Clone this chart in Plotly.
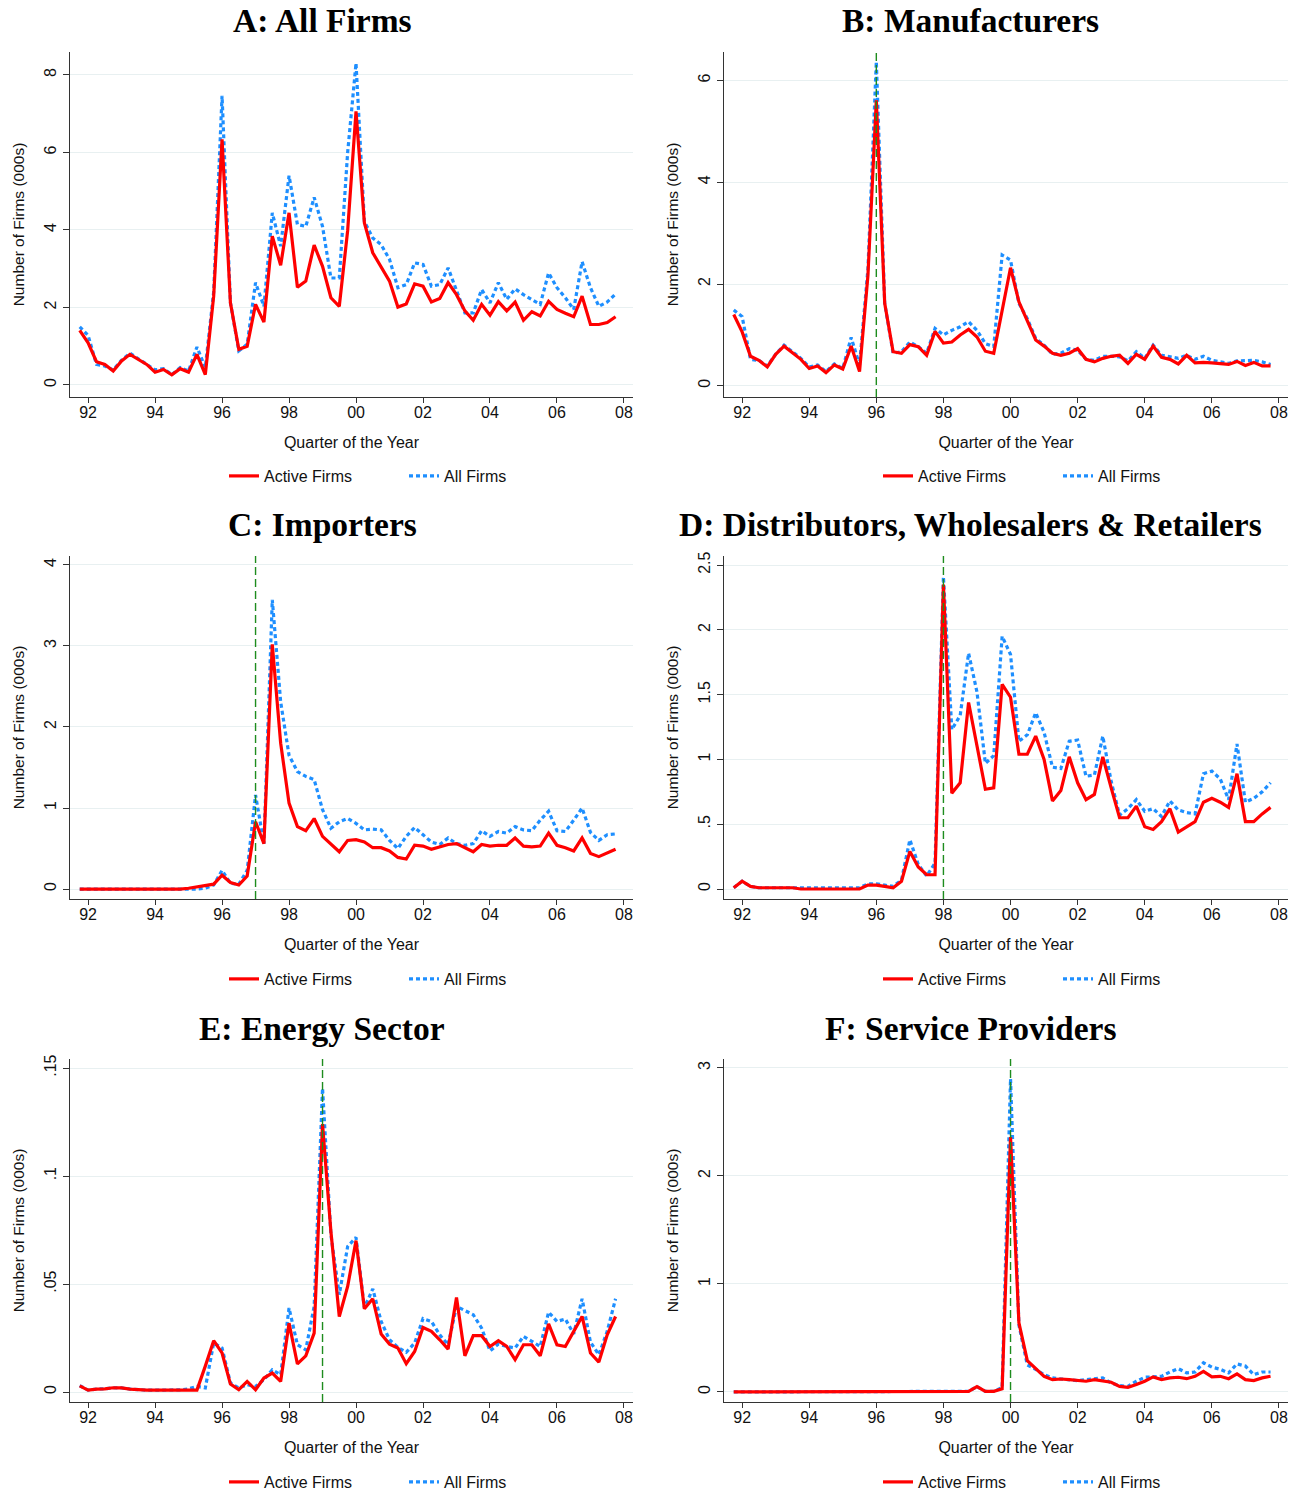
import plotly.graph_objects as go

# ---------------- data ----------------
YEARS = list(range(1991, 2008))
QUARTERS = [f"{y}q{q}" for y in YEARS for q in range(1, 5)][3:]   # 1991q4 .. 2007q4
X_TICKS = [1992, 1994, 1996, 1998, 2000, 2002, 2004, 2006, 2008]
X_TICK_LABELS = ["92", "94", "96", "98", "00", "02", "04", "06", "08"]

A_ACTIVE = [1.41, 1.09, 0.60, 0.53, 0.36, 0.62, 0.79, 0.66, 0.53, 0.33,
            0.40, 0.26, 0.42, 0.33, 0.79, 0.27, 2.29, 6.34, 2.12, 0.92,
            1.00, 2.08, 1.62, 3.84, 3.09, 4.44, 2.52, 2.68, 3.61, 3.06,
            2.25, 2.03, 3.98, 7.06, 4.18, 3.41, 3.05, 2.68, 2.01, 2.09,
            2.61, 2.55, 2.14, 2.23, 2.64, 2.33, 1.91, 1.67, 2.08, 1.80,
            2.15, 1.91, 2.14, 1.67, 1.89, 1.78, 2.16, 1.95, 1.85, 1.76,
            2.29, 1.56, 1.56, 1.61, 1.76]
A_ALL = [1.50, 1.28, 0.53, 0.49, 0.39, 0.64, 0.82, 0.68, 0.55, 0.39,
         0.42, 0.27, 0.45, 0.36, 0.98, 0.45, 2.40, 7.46, 2.12, 0.88,
         1.05, 2.64, 2.03, 4.44, 3.58, 5.40, 4.14, 4.09, 4.84, 4.09,
         2.76, 2.76, 6.00, 8.30, 4.22, 3.79, 3.62, 3.24, 2.51, 2.59,
         3.15, 3.11, 2.55, 2.59, 3.02, 2.46, 1.86, 1.86, 2.46, 2.12,
         2.64, 2.21, 2.48, 2.33, 2.21, 2.08, 2.89, 2.51, 2.25, 1.95,
         3.18, 2.51, 2.03, 2.14, 2.35]

B_ACTIVE = [1.40, 1.06, 0.58, 0.50, 0.37, 0.62, 0.78, 0.65, 0.52, 0.34,
            0.39, 0.26, 0.41, 0.33, 0.78, 0.28, 2.17, 5.61, 1.62, 0.67,
            0.64, 0.81, 0.77, 0.60, 1.07, 0.84, 0.86, 1.00, 1.11, 0.96,
            0.68, 0.64, 1.52, 2.32, 1.65, 1.29, 0.90, 0.78, 0.64, 0.60,
            0.64, 0.73, 0.52, 0.47, 0.54, 0.58, 0.60, 0.44, 0.62, 0.52,
            0.78, 0.56, 0.52, 0.43, 0.60, 0.45, 0.46, 0.45, 0.44, 0.42,
            0.48, 0.40, 0.46, 0.39, 0.39]
B_ALL = [1.49, 1.36, 0.52, 0.50, 0.39, 0.62, 0.80, 0.67, 0.54, 0.37,
         0.41, 0.28, 0.43, 0.34, 0.95, 0.41, 2.30, 6.37, 1.62, 0.64,
         0.67, 0.86, 0.77, 0.64, 1.13, 1.00, 1.09, 1.16, 1.26, 1.09,
         0.83, 0.77, 2.57, 2.47, 1.62, 1.32, 0.93, 0.80, 0.62, 0.64,
         0.73, 0.70, 0.52, 0.50, 0.58, 0.58, 0.57, 0.49, 0.67, 0.54,
         0.80, 0.60, 0.57, 0.54, 0.60, 0.52, 0.58, 0.50, 0.47, 0.44,
         0.49, 0.50, 0.50, 0.47, 0.42]

C_ACTIVE = [0.00, 0.00, 0.00, 0.00, 0.00, 0.00, 0.00, 0.00, 0.00, 0.00,
            0.00, 0.00, 0.00, 0.01, 0.03, 0.04, 0.06, 0.17, 0.08, 0.05,
            0.16, 0.83, 0.56, 3.02, 1.80, 1.06, 0.77, 0.72, 0.87, 0.65,
            0.56, 0.46, 0.60, 0.61, 0.58, 0.51, 0.51, 0.47, 0.39, 0.37,
            0.54, 0.53, 0.49, 0.52, 0.55, 0.56, 0.51, 0.46, 0.55, 0.53,
            0.54, 0.54, 0.63, 0.53, 0.52, 0.53, 0.69, 0.54, 0.51, 0.47,
            0.63, 0.44, 0.40, 0.45, 0.49]
C_ALL = [0.00, 0.00, 0.00, 0.00, 0.00, 0.00, 0.00, 0.00, 0.00, 0.00,
         0.00, 0.00, 0.00, 0.00, 0.00, 0.01, 0.05, 0.23, 0.07, 0.06,
         0.23, 1.16, 0.56, 3.57, 2.31, 1.65, 1.45, 1.39, 1.35, 0.98,
         0.75, 0.83, 0.87, 0.81, 0.73, 0.74, 0.73, 0.60, 0.50, 0.65,
         0.76, 0.67, 0.58, 0.55, 0.63, 0.56, 0.54, 0.56, 0.72, 0.65,
         0.71, 0.69, 0.77, 0.73, 0.72, 0.85, 0.96, 0.72, 0.71, 0.85,
         1.00, 0.70, 0.60, 0.67, 0.68]

D_ACTIVE = [0.01, 0.06, 0.02, 0.01, 0.01, 0.01, 0.01, 0.01, 0.00, 0.00,
            0.00, 0.00, 0.00, 0.00, 0.00, 0.00, 0.03, 0.03, 0.02, 0.01,
            0.06, 0.29, 0.17, 0.11, 0.11, 2.35, 0.74, 0.82, 1.44, 1.10,
            0.77, 0.78, 1.58, 1.48, 1.04, 1.04, 1.18, 1.00, 0.68, 0.76,
            1.02, 0.82, 0.69, 0.73, 1.02, 0.78, 0.55, 0.55, 0.64, 0.48,
            0.46, 0.52, 0.62, 0.44, 0.48, 0.52, 0.67, 0.70, 0.67, 0.63,
            0.89, 0.52, 0.52, 0.58, 0.63]
D_ALL = [0.01, 0.06, 0.02, 0.01, 0.01, 0.01, 0.01, 0.01, 0.01, 0.01,
         0.01, 0.01, 0.01, 0.01, 0.01, 0.01, 0.04, 0.04, 0.03, 0.02,
         0.07, 0.38, 0.19, 0.10, 0.20, 2.41, 1.23, 1.34, 1.82, 1.52,
         0.97, 1.03, 1.95, 1.81, 1.14, 1.19, 1.36, 1.21, 0.94, 0.93,
         1.14, 1.15, 0.87, 0.88, 1.18, 0.83, 0.57, 0.62, 0.69, 0.60,
         0.62, 0.56, 0.68, 0.61, 0.59, 0.58, 0.89, 0.91, 0.85, 0.69,
         1.12, 0.67, 0.70, 0.75, 0.82]

E_ACTIVE = [0.0029, 0.0009, 0.0014, 0.0015, 0.0020, 0.0019, 0.0014, 0.0011, 0.0009, 0.0009,
            0.0009, 0.0009, 0.0009, 0.0009, 0.0009, 0.0120, 0.0238, 0.0181, 0.0037, 0.0011,
            0.0049, 0.0011, 0.0065, 0.0088, 0.0049, 0.0319, 0.0130, 0.0168, 0.0273, 0.1241,
            0.0744, 0.0350, 0.0489, 0.0701, 0.0386, 0.0432, 0.0269, 0.0222, 0.0204, 0.0131,
            0.0188, 0.0299, 0.0281, 0.0242, 0.0199, 0.0438, 0.0168, 0.0261, 0.0261, 0.0211,
            0.0238, 0.0211, 0.0150, 0.0219, 0.0219, 0.0168, 0.0316, 0.0219, 0.0211, 0.0281,
            0.0350, 0.0181, 0.0139, 0.0265, 0.0350]
E_ALL = [0.0030, 0.0009, 0.0014, 0.0015, 0.0020, 0.0019, 0.0014, 0.0011, 0.0009, 0.0009,
         0.0009, 0.0009, 0.0010, 0.0015, 0.0026, 0.0019, 0.0227, 0.0204, 0.0042, 0.0019,
         0.0034, 0.0026, 0.0057, 0.0103, 0.0080, 0.0389, 0.0219, 0.0196, 0.0397, 0.1407,
         0.0728, 0.0451, 0.0674, 0.0716, 0.0389, 0.0478, 0.0327, 0.0242, 0.0207, 0.0184,
         0.0227, 0.0340, 0.0327, 0.0265, 0.0219, 0.0397, 0.0378, 0.0358, 0.0296, 0.0191,
         0.0222, 0.0211, 0.0204, 0.0258, 0.0235, 0.0211, 0.0370, 0.0327, 0.0338, 0.0269,
         0.0432, 0.0231, 0.0173, 0.0281, 0.0432]

F_ACTIVE = [0.000, 0.000, 0.000, 0.000, 0.000, 0.000, 0.000, 0.000, 0.000, 0.000,
            0.000, 0.000, 0.000, 0.000, 0.000, 0.000, 0.000, 0.001, 0.002, 0.002,
            0.003, 0.003, 0.004, 0.004, 0.006, 0.006, 0.006, 0.006, 0.006, 0.050,
            0.006, 0.006, 0.030, 2.360, 0.640, 0.290, 0.220, 0.145, 0.114, 0.120,
            0.114, 0.105, 0.099, 0.114, 0.099, 0.090, 0.052, 0.043, 0.068, 0.099,
            0.139, 0.114, 0.130, 0.136, 0.123, 0.145, 0.190, 0.139, 0.145, 0.123,
            0.167, 0.114, 0.105, 0.130, 0.145]
F_ALL = [0.000, 0.000, 0.000, 0.000, 0.000, 0.000, 0.000, 0.000, 0.000, 0.000,
         0.000, 0.000, 0.000, 0.000, 0.000, 0.000, 0.000, 0.001, 0.002, 0.002,
         0.003, 0.003, 0.004, 0.004, 0.006, 0.006, 0.006, 0.006, 0.006, 0.050,
         0.006, 0.006, 0.040, 2.900, 0.620, 0.250, 0.210, 0.160, 0.130, 0.120,
         0.114, 0.105, 0.114, 0.123, 0.130, 0.083, 0.059, 0.052, 0.099, 0.136,
         0.139, 0.145, 0.185, 0.216, 0.176, 0.185, 0.270, 0.230, 0.210, 0.176,
         0.260, 0.240, 0.160, 0.185, 0.185]

TITLES = ["A: All Firms", "B: Manufacturers", "C: Importers",
          "D: Distributors, Wholesalers & Retailers", "E: Energy Sector",
          "F: Service Providers"]
ACTIVE = [A_ACTIVE, B_ACTIVE, C_ACTIVE, D_ACTIVE, E_ACTIVE, F_ACTIVE]
ALL = [A_ALL, B_ALL, C_ALL, D_ALL, E_ALL, F_ALL]
EVENT_QUARTER = [None, "1996q1", "1997q1", "1998q1", "1999q1", "2000q1"]
Y_TICKS = [[0, 2, 4, 6, 8], [0, 2, 4, 6], [0, 1, 2, 3, 4],
           [0, 0.5, 1, 1.5, 2, 2.5], [0, 0.05, 0.1, 0.15], [0, 1, 2, 3]]
Y_TICK_LABELS = [["0", "2", "4", "6", "8"], ["0", "2", "4", "6"],
                 ["0", "1", "2", "3", "4"], ["0", ".5", "1", "1.5", "2", "2.5"],
                 ["0", ".05", ".1", ".15"], ["0", "1", "2", "3"]]
Y_RANGES = [[-0.31, 8.59], [-0.22, 6.56], [-0.123, 4.11],
            [-0.077, 2.57], [-0.0046, 0.1542], [-0.093, 3.083]]


def qnum(label):
    y, q = label.split("q")
    return int(y) + (int(q) - 1) / 4.0


X = [qnum(q) for q in QUARTERS]

# ---------------- layout geometry (pixels) ----------------
W, H = 1296, 1492
COLS = [(70, 633), (724, 1288)]
ROWS = [(52, 397), (556, 899), (1059, 1402)]
TITLE_Y = [20, 524, 1028]
LEGEND_Y = [476, 979, 1482]
LEGEND_X = [224, 878]

RED = "#ff0000"
BLUE = "#1e8fff"
GREEN = "#1e8c1e"
SANS = "Liberation Sans, Arial, sans-serif"
SERIF = "Liberation Serif, Times New Roman, serif"

fig = go.Figure()
layout = dict(width=W, height=H,
              margin=dict(l=0, r=0, t=0, b=0, autoexpand=False),
              paper_bgcolor="white", plot_bgcolor="white",
              showlegend=True, annotations=[], shapes=[])

for i in range(6):
    r, c = divmod(i, 2)
    n = i + 1
    sfx = "" if n == 1 else str(n)
    xa, ya = "x" + sfx, "y" + sfx
    lg = "legend" + sfx
    x0p, x1p = COLS[c]
    y0p, y1p = ROWS[r]
    xdom = [x0p / W, x1p / W]
    ydom = [1 - y1p / H, 1 - y0p / H]

    fig.add_trace(go.Scatter(x=X, y=ALL[i], mode="lines", name="All Firms",
                             line=dict(color=BLUE, width=3.2, dash="4px,3px"),
                             xaxis=xa, yaxis=ya, legend=lg, legendrank=2))
    fig.add_trace(go.Scatter(x=X, y=ACTIVE[i], mode="lines", name="Active Firms",
                             line=dict(color=RED, width=3.2),
                             xaxis=xa, yaxis=ya, legend=lg, legendrank=1))

    layout["xaxis" + sfx] = dict(
        domain=xdom, anchor=ya, range=[1991.46, 2008.27], automargin=False,
        tickmode="array", tickvals=X_TICKS, ticktext=X_TICK_LABELS,
        ticks="outside", ticklen=5, tickcolor="#333", tickwidth=1,
        ticklabelstandoff=-4,
        showline=True, linecolor="#333", linewidth=1.2, showgrid=False,
        zeroline=False, tickfont=dict(family=SANS, size=16, color="#111"),
        title=dict(text="Quarter of the Year", standoff=16,
                   font=dict(family=SANS, size=16, color="#111")))
    layout["yaxis" + sfx] = dict(
        domain=ydom, anchor=xa, range=Y_RANGES[i], automargin=False,
        tickmode="array", tickvals=Y_TICKS[i], ticktext=Y_TICK_LABELS[i],
        tickangle=-90, ticks="outside", ticklen=6, tickcolor="#333", tickwidth=1,
        ticklabelstandoff=1,
        showline=True, linecolor="#333", linewidth=1.2,
        showgrid=True, gridcolor="#e8f0f1", gridwidth=1.3, zeroline=False,
        tickfont=dict(family=SANS, size=16, color="#111"),
        title=dict(text="Number of Firms (000s)", standoff=13,
                   font=dict(family=SANS, size=15.5, color="#111")))

    layout[lg] = dict(orientation="h", x=LEGEND_X[c] / W, xanchor="left",
                      y=1 - LEGEND_Y[r] / H, yanchor="middle",
                      font=dict(family=SANS, size=16, color="#111"),
                      bgcolor="rgba(0,0,0,0)", traceorder="normal",
                      entrywidth=135, entrywidthmode="pixels")

    layout["annotations"].append(dict(
        text=TITLES[i], xref="paper", yref="paper",
        x=(c * W / 2 + W / 4 - 2) / W, y=1 - TITLE_Y[r] / H,
        xanchor="center", yanchor="middle", showarrow=False,
        font=dict(family=SERIF, size=33.5, color="#000", weight="bold")))

    if EVENT_QUARTER[i] is not None:
        ex = qnum(EVENT_QUARTER[i])
        layout["shapes"].append(dict(
            type="line", xref=xa, yref=ya + " domain", x0=ex, x1=ex, y0=0, y1=1,
            line=dict(color=GREEN, width=1.4, dash="8px,4px"), layer="above"))

fig.update_layout(**layout)
fig.write_html("out.html",
               config={"displayModeBar": False},
               post_script="document.body.style.margin='0';"
                           "document.body.style.overflow='hidden';")
